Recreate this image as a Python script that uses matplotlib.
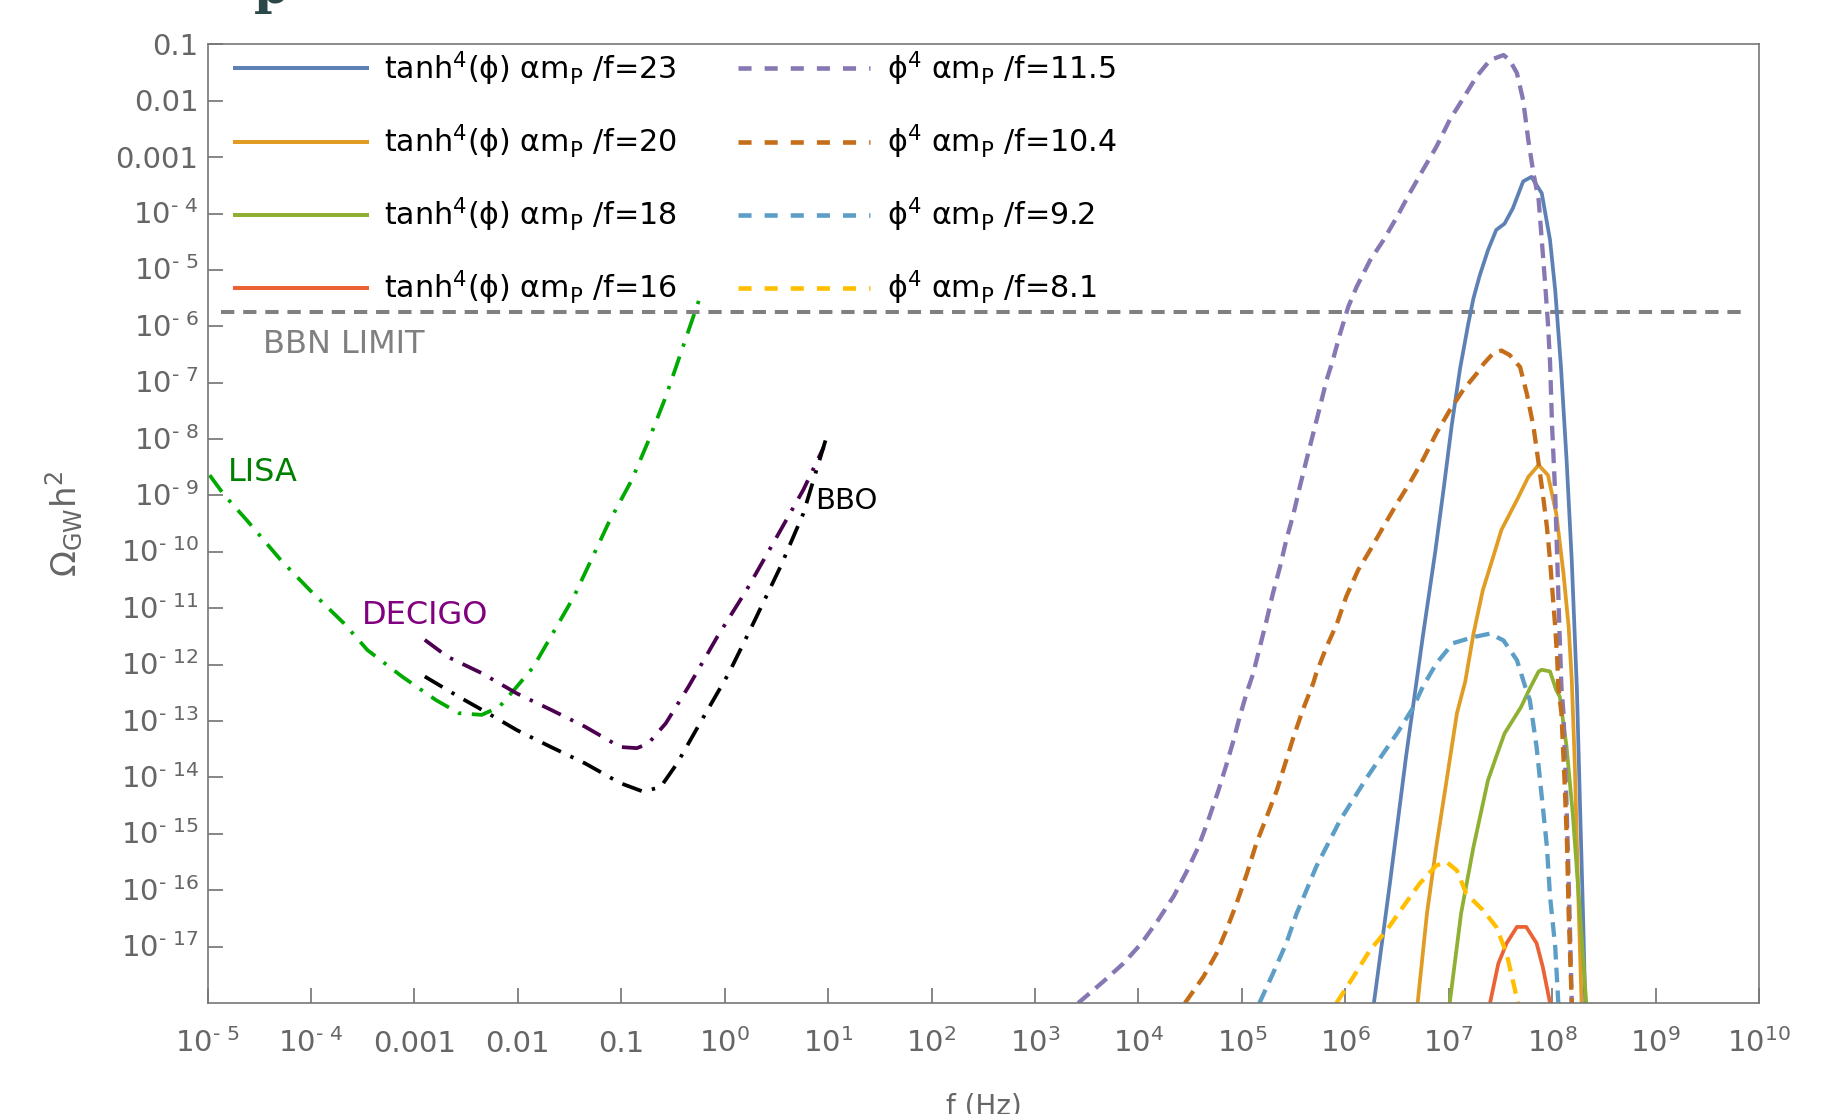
import numpy as np
import matplotlib
matplotlib.use('Agg')
import matplotlib.pyplot as plt
import matplotlib.transforms as mtransforms
from matplotlib.lines import Line2D
from matplotlib.ticker import NullLocator

# ---------------- data (log10 f [Hz], log10 Omega_GW h^2) ----------------
tanh23_logf = [6.277, 6.43, 6.59, 6.75, 6.87, 6.95, 7.03, 7.11, 7.19, 7.24, 7.30, 7.38, 7.46, 7.54, 7.62,
               7.72, 7.80, 7.90, 7.98, 8.03, 8.085, 8.14, 8.19, 8.24, 8.27, 8.30, 8.32]
tanh23_logo = [-18.0, -15.9, -13.6, -11.5, -10.0, -8.9, -7.75, -6.75, -5.95, -5.5, -5.1, -4.65, -4.29,
               -4.18, -3.91, -3.43, -3.35, -3.64, -4.47, -5.36, -6.7, -8.37, -10.15, -12.45, -14.5, -16.5,
               -18.0]

tanh20_logf = [6.70, 6.79, 6.88, 6.98, 7.08, 7.16, 7.24, 7.33, 7.43, 7.51, 7.66, 7.77, 7.87, 7.96, 8.04,
               8.11, 8.16, 8.19, 8.22, 8.25, 8.285]
tanh20_logo = [-18.0, -16.41, -15.23, -14.05, -12.86, -12.3, -11.45, -10.68, -10.09, -9.61, -9.08, -8.67,
               -8.46, -8.64, -9.32, -10.38, -11.33, -12.27, -13.8, -15.9, -18.0]

tanh18_logf = [7.01, 7.12, 7.24, 7.38, 7.46, 7.54, 7.70, 7.785, 7.87, 7.90, 7.98, 8.04, 8.075, 8.14, 8.20,
               8.27, 8.33]
tanh18_logo = [-18.0, -16.41, -15.23, -14.05, -13.63, -13.22, -12.75, -12.42, -12.12, -12.09, -12.12,
               -12.45, -12.57, -13.46, -14.65, -16.41, -18.0]

tanh16_logf = [7.40, 7.48, 7.56, 7.66, 7.75, 7.85, 7.91, 7.98]
tanh16_logo = [-18.0, -17.30, -16.94, -16.65, -16.65, -16.94, -17.36, -18.0]

phi115_logf = [3.418, 3.66, 3.853, 4.03, 4.19, 4.34, 4.466, 4.58, 4.675, 4.77, 4.85, 4.92, 4.98, 5.05, 5.11,
               5.175, 5.24, 5.30, 5.37, 5.43, 5.50, 5.56, 5.625, 5.69, 5.755, 5.82, 5.88, 5.95, 6.03, 6.11,
               6.24, 6.37, 6.50, 6.62, 6.75, 6.88, 7.01, 7.14, 7.27, 7.40, 7.53, 7.59, 7.66, 7.72, 7.77,
               7.82, 7.87, 7.90, 7.93, 7.96, 7.98, 8.00, 8.03, 8.05, 8.07, 8.09, 8.11, 8.14, 8.17, 8.19]
phi115_logo = [-18.0, -17.62, -17.30, -16.94, -16.53, -16.11, -15.67, -15.23, -14.76, -14.25, -13.78, -13.34,
               -12.92, -12.48, -12.155, -11.68, -11.21, -10.74, -10.26, -9.79, -9.32, -8.85, -8.37, -7.90,
               -7.43, -6.95, -6.60, -6.13, -5.65, -5.30, -4.83, -4.47, -4.06, -3.65, -3.23, -2.82, -2.34,
               -1.96, -1.57, -1.28, -1.19, -1.28, -1.51, -1.99, -2.70, -3.29, -3.76, -4.47, -5.18, -5.95,
               -6.63, -7.78, -8.97, -10.15, -11.33, -12.39, -12.86, -14.5, -16.5, -18.0]

phi104_logf = [4.45, 4.63, 4.755, 4.85, 4.95, 5.05, 5.14, 5.24, 5.34, 5.42, 5.50, 5.59, 5.69, 5.72, 5.82,
               5.92, 6.01, 6.125, 6.24, 6.37, 6.50, 6.62, 6.75, 6.88, 7.01, 7.14, 7.27, 7.34, 7.43, 7.51,
               7.59, 7.66, 7.69, 7.755, 7.82, 7.865, 7.91, 7.95, 7.98, 8.005, 8.03, 8.05, 8.06, 8.09, 8.12,
               8.145, 8.16, 8.19]
phi104_logo = [-18.0, -17.53, -17.12, -16.71, -16.23, -15.70, -15.17, -14.70, -14.22, -13.75, -13.28,
               -12.80, -12.33, -12.15, -11.68, -11.27, -10.79, -10.32, -9.97, -9.55, -9.14, -8.79, -8.37,
               -7.90, -7.49, -7.13, -6.84, -6.66, -6.48, -6.43, -6.51, -6.66, -6.72, -7.19, -7.78, -8.37,
               -8.97, -9.56, -10.15, -10.74, -11.33, -11.92, -12.39, -12.86, -14.05, -15.23, -16.41, -18.0]

phi92_logf = [5.17, 5.30, 5.43, 5.53, 5.625, 5.72, 5.835, 5.95, 6.08, 6.21, 6.35, 6.50, 6.66, 6.75, 6.88,
              7.04, 7.24, 7.40, 7.53, 7.66, 7.74, 7.785, 7.85, 7.90, 7.95, 7.98, 8.03, 8.06]
phi92_logo = [-18.0, -17.48, -16.94, -16.41, -16.0, -15.58, -15.17, -14.76, -14.38, -14.0, -13.62,
              -13.22, -12.75, -12.39, -11.98, -11.62, -11.51, -11.45, -11.57, -11.92, -12.39, -12.63,
              -13.46, -14.34, -15.23, -16.11, -17.0, -18.0]

phi81_logf = [5.915, 6.08, 6.24, 6.40, 6.56, 6.72, 6.88, 6.98, 7.08, 7.17, 7.33, 7.46, 7.56, 7.62, 7.67]
phi81_logo = [-18.0, -17.53, -17.06, -16.71, -16.29, -15.88, -15.56, -15.50, -15.65, -16.06, -16.35,
              -16.65, -17.12, -17.60, -18.0]

lisa_logf = [-4.98, -4.84, -4.62, -4.29, -4.01, -3.68, -3.455, -3.12, -2.79, -2.57, -2.35, -2.18, -2.01,
             -1.85, -1.68, -1.46, -1.29, -1.124, -0.90, -0.735, -0.57, -0.24]
lisa_logo = [-8.64, -8.99, -9.44, -10.15, -10.68, -11.27, -11.74, -12.21, -12.63, -12.86, -12.89, -12.75,
             -12.39, -12.04, -11.50, -10.80, -10.14, -9.49, -8.73, -8.02, -7.25, -5.49]

decigo_logf = [-2.90, -2.68, -2.35, -2.01, -1.68, -1.35, -1.01, -0.85, -0.74, -0.57, -0.35, -0.07, 0.21,
               0.486, 0.76, 0.958]
decigo_logo = [-11.56, -11.86, -12.15, -12.51, -12.80, -13.10, -13.46, -13.48, -13.40, -13.04, -12.39,
               -11.50, -10.68, -9.79, -8.90, -8.14]

bbo_logf = [-2.90, -2.57, -2.29, -2.01, -1.68, -1.35, -1.01, -0.79, -0.62, -0.46, -0.24, 0.04, 0.26, 0.54,
            0.76, 0.985]
bbo_logo = [-12.21, -12.57, -12.86, -13.16, -13.46, -13.75, -14.10, -14.25, -14.17, -13.75, -13.04, -12.15,
            -11.33, -10.26, -9.32, -7.96]

bbn_limit = 10 ** -5.75
bbn_logf_range = [-4.87, 9.9]

tanh_labels = [r'tanh$^4$(ϕ) αm$_\mathrm{P}$ /f=23', r'tanh$^4$(ϕ) αm$_\mathrm{P}$ /f=20',
               r'tanh$^4$(ϕ) αm$_\mathrm{P}$ /f=18', r'tanh$^4$(ϕ) αm$_\mathrm{P}$ /f=16']
phi_labels = [r'ϕ$^4$ αm$_\mathrm{P}$ /f=11.5', r'ϕ$^4$ αm$_\mathrm{P}$ /f=10.4',
              r'ϕ$^4$ αm$_\mathrm{P}$ /f=9.2', r'ϕ$^4$ αm$_\mathrm{P}$ /f=8.1']

xtick_exps = list(range(-5, 11))
xtick_labels = [r'$10^{\text{-}\ 5}$', r'$10^{\text{-}\ 4}$', '0.001', '0.01', '0.1', r'$10^{0}$', r'$10^{1}$',
                r'$10^{2}$', r'$10^{3}$', r'$10^{4}$', r'$10^{5}$', r'$10^{6}$', r'$10^{7}$', r'$10^{8}$',
                r'$10^{9}$', r'$10^{10}$']
ytick_exps = list(range(-17, 0))
ytick_labels = [r'$10^{\text{-}\ %d}$' % (-e) for e in range(-17, -3)] + ['0.001', '0.01', '0.1']

# ---------------- styling ----------------
tanh_colors = ['#5E81B5', '#E19C24', '#8FB032', '#EB6235']
phi_colors = ['#8778B3', '#C56E1A', '#5D9EC7', '#FFBF00']
gray = '#666666'

fig = plt.figure(figsize=(18.29, 11.14), dpi=100)
ax = fig.add_axes([0.1135, 0.0996, 0.8482, 0.8606])
ax.set_xscale('log')
ax.set_yscale('log')
ax.set_xlim(1e-5, 1e10)
ax.set_ylim(1e-18, 1e-1)

def P(lf, lo):
    return 10.0 ** np.asarray(lf), 10.0 ** np.asarray(lo)

# detector sensitivity curves (dash-dot)
dd = (5.5, 2.8, 0.9, 2.8)
x, y = P(lisa_logf, lisa_logo)
ax.plot(x, y, color='#00AA00', lw=2.7, dashes=dd)
x, y = P(decigo_logf, decigo_logo)
ax.plot(x, y, color='#4B0050', lw=2.7, dashes=dd)
x, y = P(bbo_logf, bbo_logo)
ax.plot(x, y, color='black', lw=2.7, dashes=dd)

# BBN limit
ax.plot(10.0 ** np.asarray(bbn_logf_range), [bbn_limit, bbn_limit], color='#808080', lw=2.9,
        dashes=(3.3, 2.2))

# model curves
for (lf, lo), c in zip([(tanh23_logf, tanh23_logo), (tanh20_logf, tanh20_logo),
                        (tanh18_logf, tanh18_logo), (tanh16_logf, tanh16_logo)], tanh_colors):
    x, y = P(lf, lo)
    ax.plot(x, y, color=c, lw=2.7)
for (lf, lo), c in zip([(phi115_logf, phi115_logo), (phi104_logf, phi104_logo),
                        (phi92_logf, phi92_logo), (phi81_logf, phi81_logo)], phi_colors):
    x, y = P(lf, lo)
    ax.plot(x, y, color=c, lw=3.1, dashes=(3.4, 1.9))

# annotations
ax.text(10 ** -4.80, 10 ** -8.594, 'LISA', color='#008000', fontsize=23, ha='left', va='center')
ax.text(10 ** -3.51, 10 ** -11.12, 'DECIGO', color='#800080', fontsize=23, ha='left', va='center')
ax.text(10 ** 0.873, 10 ** -9.09, 'BBO', color='black', fontsize=21, ha='left', va='center')
ax.text(10 ** -4.469, 10 ** -6.315, 'BBN LIMIT', color='#808080', fontsize=23, ha='left', va='center')

# legend
handles = [Line2D([], [], color=c, lw=2.9) for c in tanh_colors] + \
          [Line2D([], [], color=c, lw=3.3, dashes=(2.85, 2.85)) for c in phi_colors]
leg = ax.legend(handles, tanh_labels + phi_labels, ncol=2, frameon=False, fontsize=21.7,
                loc='upper left', bbox_to_anchor=(0.0174, 0.995), borderaxespad=0, borderpad=0,
                handlelength=4.38, handletextpad=0.58, columnspacing=2.02, labelspacing=1.15)

# axes styling
for s in ax.spines.values():
    s.set_color('#777777')
    s.set_linewidth(1.2)
ax.set_xticks(10.0 ** np.asarray(xtick_exps, dtype=float), xtick_labels)
ax.set_yticks(10.0 ** np.asarray(ytick_exps, dtype=float), ytick_labels)
ax.xaxis.set_minor_locator(NullLocator())
ax.yaxis.set_minor_locator(NullLocator())
ax.tick_params(axis='both', direction='in', length=10.8, width=1.1, color=gray, labelcolor=gray,
               labelsize=21, top=False, right=False)
ax.tick_params(axis='x', pad=35)
ax.tick_params(axis='y', pad=6.5)
for t in ax.get_xticklabels():
    t.set_va('baseline')
off = mtransforms.ScaledTranslation(0, -0.105, fig.dpi_scale_trans)
for t in ax.get_yticklabels():
    t.set_va('baseline')
    t.set_transform(t.get_transform() + off)

fig.text(64 / 1829, 1 - 524 / 1114, r'$\Omega_{\mathrm{GW}} \mathrm{h}^2$', rotation=90, color=gray,
         fontsize=24.5, ha='center', va='center')
fig.text(984 / 1829, 1 - 1093 / 1114, 'f (Hz)', color=gray, fontsize=20, ha='center', va='top')
fig.text(271 / 1829, 1 - 3 / 1114, 'p', color='#2B4747', fontsize=36, family='DejaVu Serif',
         fontweight='bold', ha='center', va='baseline')

fig.savefig('out.png', dpi=100)
